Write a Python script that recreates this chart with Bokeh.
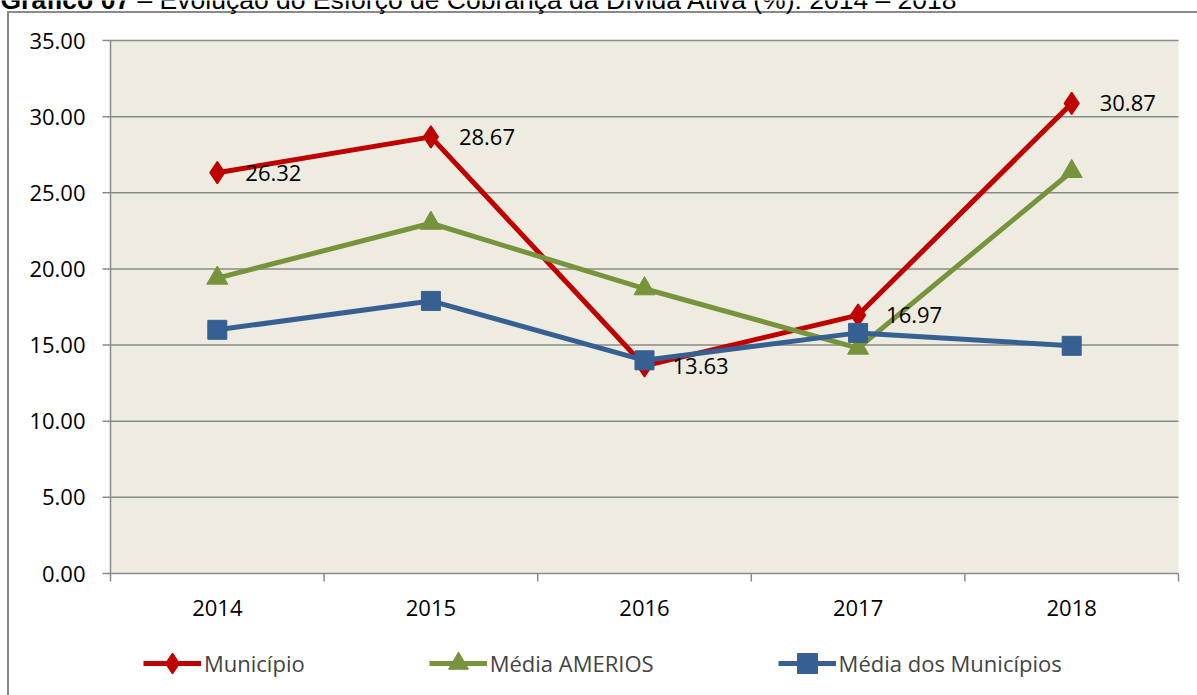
from bokeh.plotting import figure
from bokeh.models import Range1d, Legend, LegendItem, BoxAnnotation
from bokeh.core.properties import value
from bokeh.embed import file_html
from bokeh.resources import INLINE

# ---- data ----
years = ["2014", "2015", "2016", "2017", "2018"]
municipio = [26.32, 28.67, 13.63, 16.97, 30.87]
media_amerios = [19.4, 23.0, 18.7, 14.8, 26.4]
media_municipios = [16.0, 17.9, 14.0, 15.8, 14.95]
y_ticks = [0, 5, 10, 15, 20, 25, 30, 35]
series_names = ["Município", "Média AMERIOS", "Média dos Municípios"]
title_bold = "Gráfico 07"
title_rest = "– Evolução do Esforço de Cobrança da Dívida Ativa (%): 2014 – 2018"

# ---- style ----
RED = "#C00000"
GREEN = "#77933C"
BLUE = "#376092"
GRAY = "#8a8a8a"
BG = "#EEEBE0"
FONT = "Open Sans"
FS = "22px"

W, H = 1197, 695
PL, PR = 110, 1178              # plot-area left / right (px)
Y35_PX, Y0_PX = 40, 573         # pixel rows of values 35 and 0
Y_TOP = 35.0
n = len(years)
px_per_x = (PR - PL) / n
px_per_y = (Y0_PX - Y35_PX) / Y_TOP

# the frame covers the whole canvas so that the axis texts, legend and the
# (cut) title can all be drawn through the same scales
x_rng = Range1d(-PL / px_per_x, n + (W - PR) / px_per_x)
y_rng = Range1d(-(H - Y0_PX) / px_per_y, Y_TOP + Y35_PX / px_per_y)

xs = [i + 0.5 for i in range(n)]
bounds = list(range(n + 1))

p = figure(width=W, height=H, output_backend="svg", toolbar_location=None,
           x_range=x_rng, y_range=y_rng,
           x_axis_location=None, y_axis_location=None, min_border=0,
           background_fill_color=None, border_fill_color=None,
           outline_line_color=None)
p.grid.visible = False

# outer chart border (drawn behind the transparent canvas)
p.styles = {
    "background-color": "white",
    "background-image": "linear-gradient(#8a8a8a,#8a8a8a), linear-gradient(#8a8a8a,#8a8a8a)",
    "background-position": "7px 11px, 7px 11px",
    "background-size": "2px 100%, 100% 2px",
    "background-repeat": "no-repeat",
}

# plot area background
p.add_layout(BoxAnnotation(left=0, right=n, bottom=0, top=Y_TOP, fill_color=BG,
                           fill_alpha=1, line_alpha=0, level="image"))

# horizontal grid lines
m = len(y_ticks)
p.segment(x0=[0] * m, x1=[n] * m, y0=y_ticks, y1=y_ticks,
          line_color=GRAY, line_width=1.5)

# value axis: line, ticks, labels
tick_x = 8 / px_per_x
p.segment(x0=[0], y0=[0], x1=[0], y1=[Y_TOP], line_color=GRAY, line_width=1.5)
p.segment(x0=[0] * m, x1=[-tick_x] * m, y0=y_ticks, y1=y_ticks,
          line_color=GRAY, line_width=1.5)
p.text([0] * m, y_ticks, text=[f"{t:.2f}" for t in y_ticks], x_offset=-25,
       text_align="right", text_baseline="middle", text_font=value(FONT),
       text_font_size=FS, text_color="black")

# category axis: boundary ticks and year labels
tick_y = 8 / px_per_y
p.segment(x0=bounds, y0=[0] * len(bounds), x1=bounds, y1=[-tick_y] * len(bounds),
          line_color=GRAY, line_width=1.5)
p.text(xs, [0] * n, text=years, y_offset=34, text_align="center",
       text_baseline="middle", text_font=value(FONT), text_font_size=FS,
       text_color="black")

# series
r_line = p.line(xs, municipio, line_color=RED, line_width=5)
r_mark = p.scatter(xs, municipio, marker="diamond", size=22,
                   fill_color=RED, line_color=RED, line_width=1.5)
g_line = p.line(xs, media_amerios, line_color=GREEN, line_width=5)
g_mark = p.scatter(xs, media_amerios, marker="triangle", size=21,
                   fill_color=GREEN, line_color=GREEN)
b_line = p.line(xs, media_municipios, line_color=BLUE, line_width=5)
b_mark = p.scatter(xs, media_municipios, marker="square", size=19,
                   fill_color=BLUE, line_color=BLUE)

# data labels for Município
p.text(xs, municipio, text=[f"{v:.2f}" for v in municipio], x_offset=28,
       text_align="left", text_baseline="middle",
       text_font=value(FONT), text_font_size=FS, text_color="black")

# legend at the bottom
legend = Legend(items=[LegendItem(label=nm, renderers=r) for nm, r in
                       zip(series_names, [[r_line, r_mark], [g_line, g_mark], [b_line, b_mark]])],
                location=(143, 7), orientation="horizontal",
                glyph_width=58, glyph_height=50, label_height=22, label_standoff=3,
                spacing=124, label_text_font=FONT, label_text_font_size=FS,
                padding=0, margin=0, border_line_color=None,
                background_fill_alpha=0)
p.add_layout(legend)

# partially visible title at the top (as in the reference, only its lower part shows)
def xdata(px):
    return (px - PL) / px_per_x
def ydata(py):
    return (Y0_PX - py) / px_per_y

p.text([xdata(0)], [ydata(-1)], text=[title_bold], text_align="left",
       text_baseline="alphabetic", text_font=value("Liberation Sans"),
       text_font_style="bold", text_font_size="26.5px", text_color="black")
p.text([xdata(137)], [ydata(-1)], text=[title_rest], text_align="left",
       text_baseline="alphabetic", text_font=value("Liberation Sans"),
       text_font_size="26.5px", text_color="black")

open("out.html", "w").write(file_html(p, INLINE))
